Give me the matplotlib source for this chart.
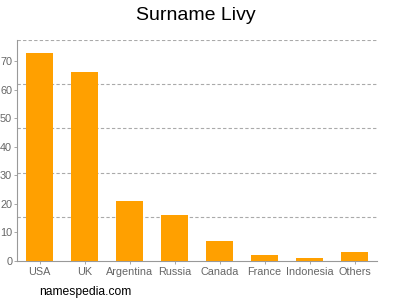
import matplotlib
matplotlib.use("Agg")
import matplotlib.pyplot as plt
import numpy as np

# ── Data ──────────────────────────────────────────────────────────────────────
countries = ["USA", "UK", "Argentina", "Russia", "Canada", "France", "Indonesia", "Others"]
counts = [73, 66, 21, 16, 7, 2, 1, 3]
y_ticks = [0, 10, 20, 30, 40, 50, 60, 70]

# ── Style ─────────────────────────────────────────────────────────────────────
plt.rcParams["font.family"] = ["Liberation Sans", "DejaVu Sans"]
BAR = "#ffa000"
GREY = "#999999"

fig = plt.figure(figsize=(4, 3), dpi=100, facecolor="white")
ax = fig.add_axes([0.0425, 0.13, 0.9, 0.7367])

x = np.arange(len(countries))
ax.bar(x, counts, width=0.62, color=BAR, zorder=3)

ymax = max(counts) * 1.06
ax.set_ylim(0, ymax)
ax.set_xlim(-0.5, len(countries) - 0.5)

# gridlines at fifths of the axis height (not at the tick values)
for k in range(1, 6):
    ax.axhline(ymax * k / 5, color="#aaaaaa", lw=0.8, ls=(0, (3, 2)), zorder=1)

ax.set_yticks(y_ticks)
ax.set_xticks(x)
ax.set_xticklabels(countries)
ax.tick_params(axis="both", labelsize=7.8, colors=GREY, labelcolor="#666666",
               length=2.5, width=0.6)
ax.tick_params(axis="x", pad=2)
ax.tick_params(axis="y", pad=1)

for sp in ["top", "right"]:
    ax.spines[sp].set_visible(False)
for sp in ["left", "bottom"]:
    ax.spines[sp].set_color(GREY)
    ax.spines[sp].set_linewidth(0.8)

fig.text(0.49, 0.95, "Surname Livy", ha="center", va="center", fontsize=14)
fig.text(0.098, 0.028, "namespedia.com", ha="left", va="center", fontsize=8.7)

fig.savefig("out.png", dpi=100)
plt.close(fig)
